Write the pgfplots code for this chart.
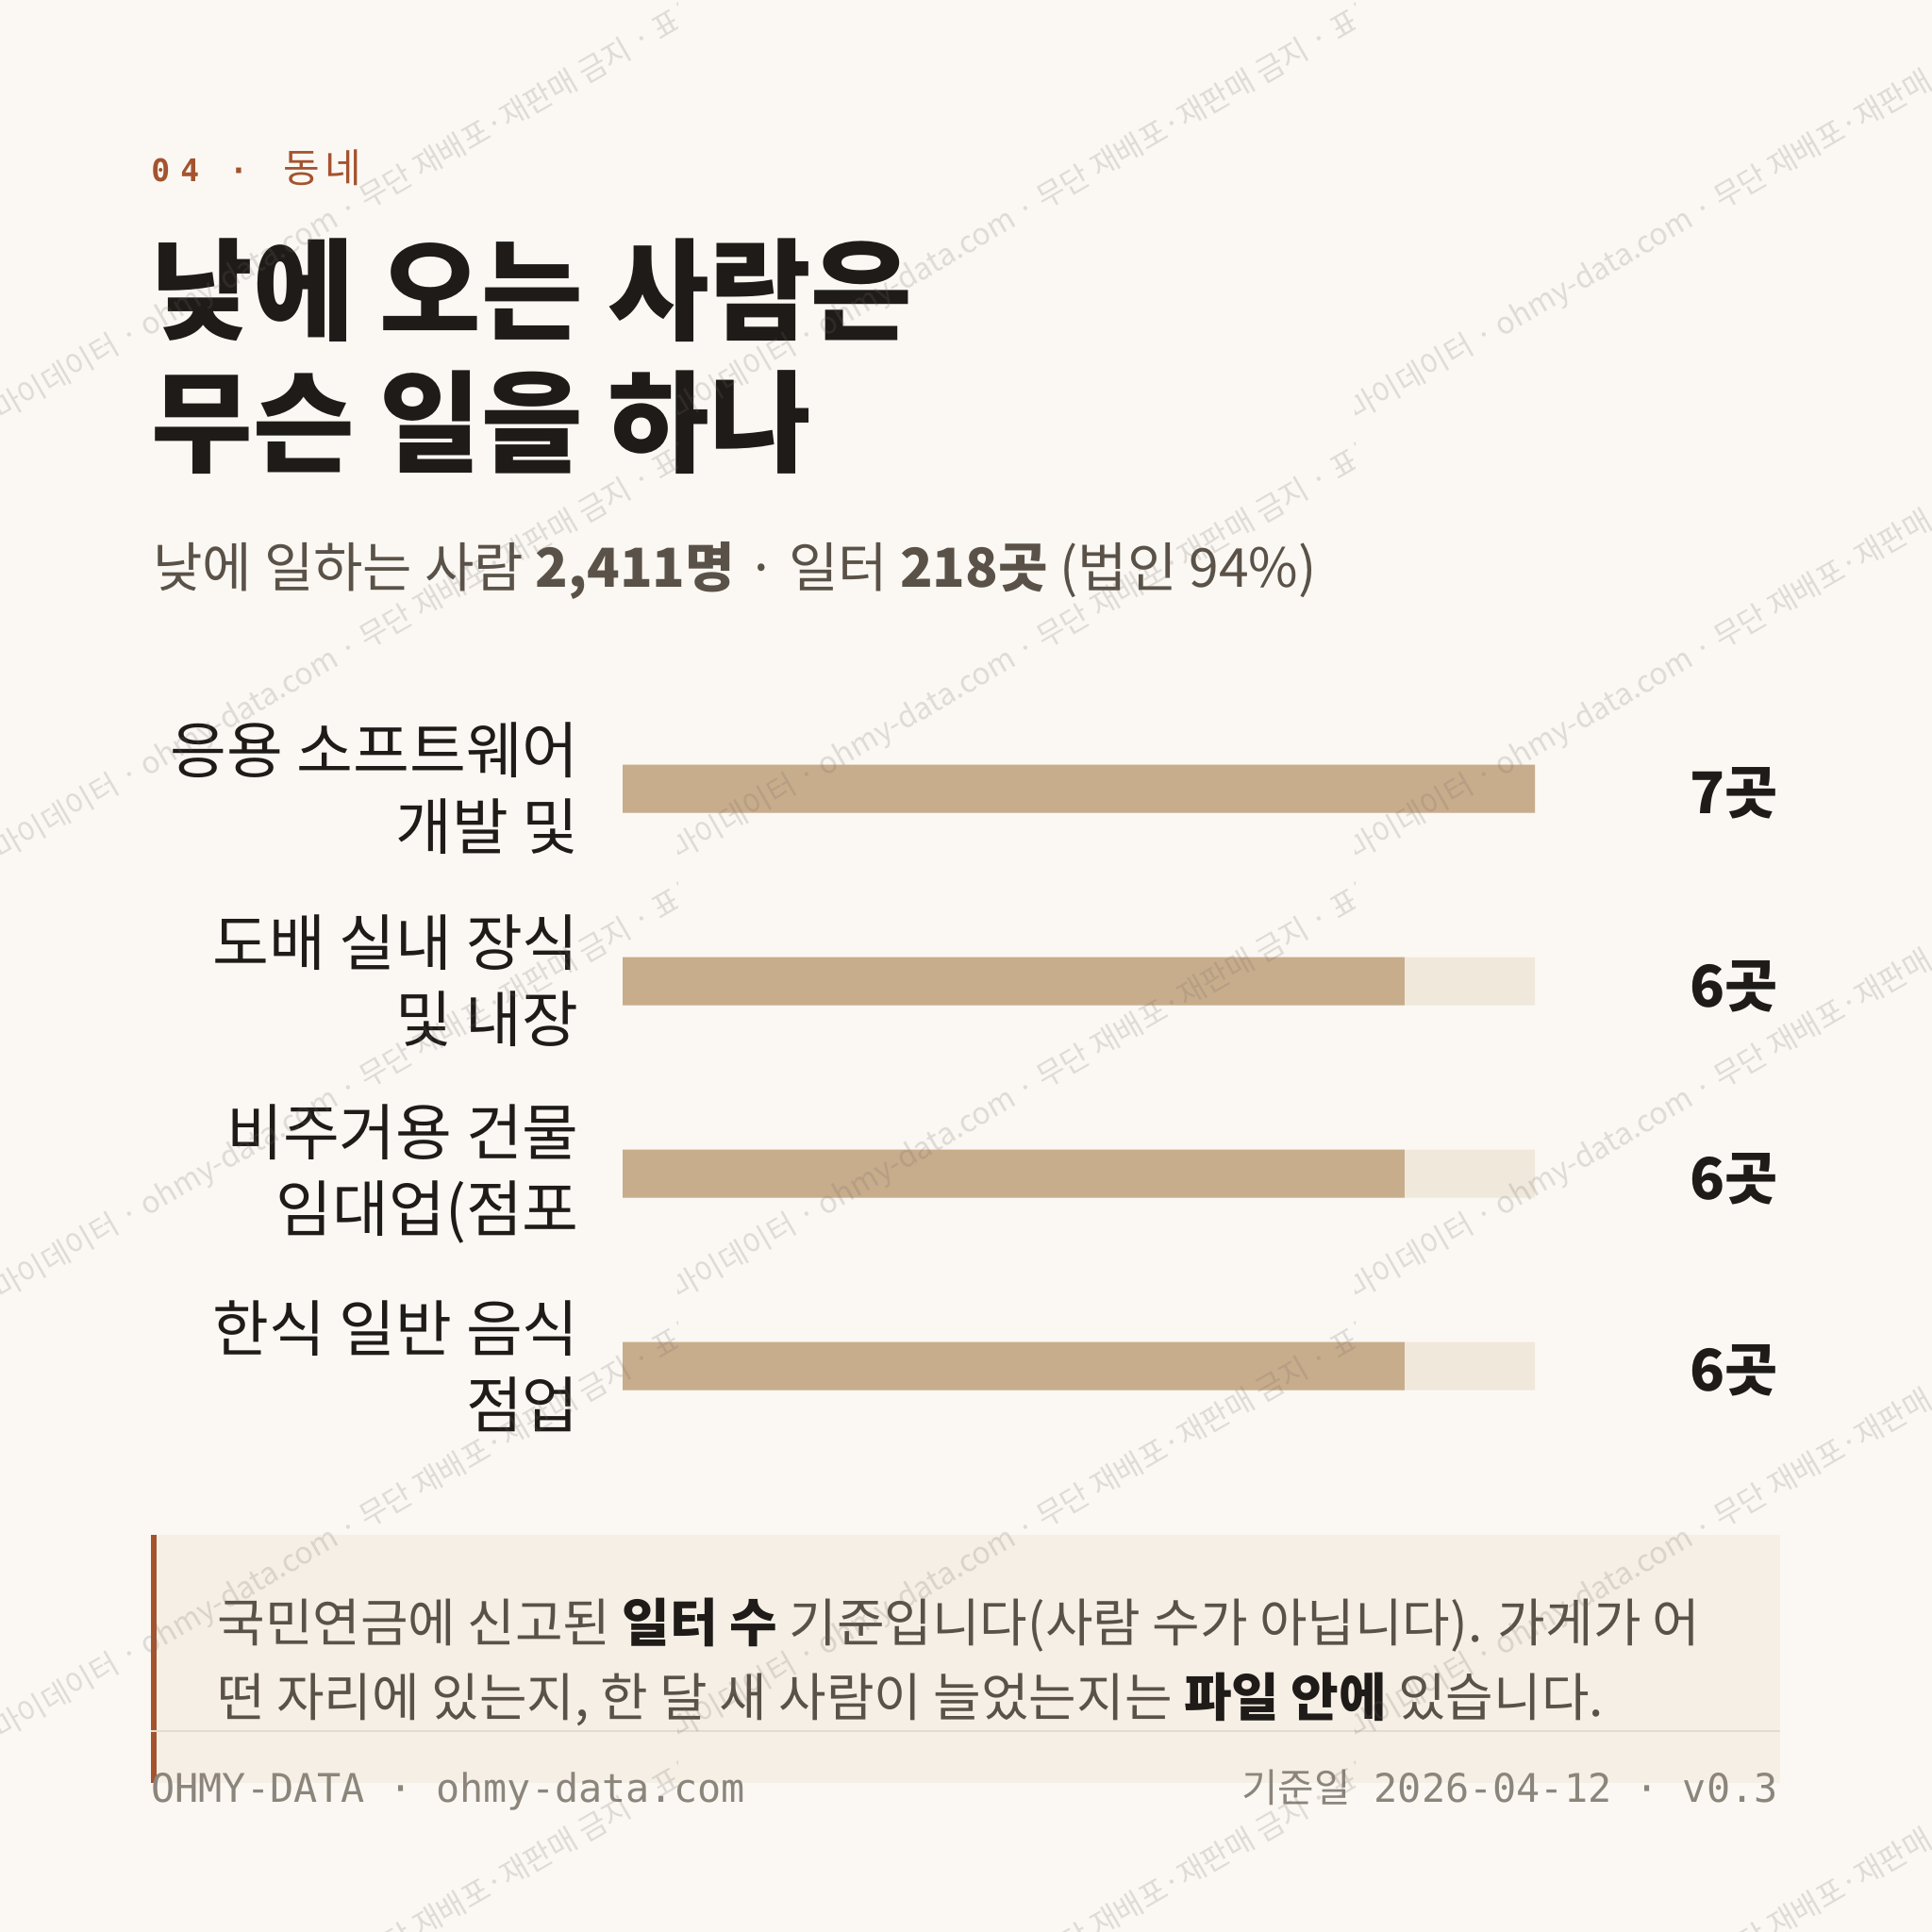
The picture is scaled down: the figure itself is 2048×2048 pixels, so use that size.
\documentclass[border=0pt]{standalone}
\usepackage{fontspec}
\usepackage{pgfplots}
\pgfplotsset{compat=1.18}
\setmainfont{Noto Sans CJK KR}
\newfontfamily\mono{DejaVu Sans Mono}
\definecolor{bg}{HTML}{FBF8F3}
\definecolor{rust}{HTML}{A4532F}
\definecolor{ink}{HTML}{1F1B18}
\definecolor{sub}{HTML}{5A5248}
\definecolor{barc}{HTML}{C8AD8C}
\definecolor{track}{HTML}{F1E8DC}
\definecolor{notebg}{HTML}{F6EFE5}
\definecolor{rule}{HTML}{E3DBCF}
\definecolor{foot}{HTML}{8C857B}
\definecolor{wm}{HTML}{6F6A64}
\begin{document}
\begin{tikzpicture}[x=0.5pt,y=-0.5pt]
\path[use as bounding box] (0,0) rectangle (2048,2048);
\fill[bg] (0,0) rectangle (2048,2048);
% kicker
\node[anchor=base west, inner sep=0pt, text=rust, font=\mono\bfseries\fontsize{16.5}{20}\selectfont] at (160,193) {0\kern5.5pt 4};
\node[anchor=base, inner sep=0pt, text=rust, font=\mono\bfseries\fontsize{16.5}{20}\selectfont] at (253,193) {·};
\node[anchor=base west, inner sep=0pt, text=rust, font=\fontsize{21}{24}\selectfont] at (300,194) {동\kern2.5pt 네};
% title
\node[anchor=base west, inner sep=0pt, text=ink, font=\bfseries\fontsize{58.5}{60}\selectfont] at (160,352) {낮에 오는 사람은};
\node[anchor=base west, inner sep=0pt, text=ink, font=\bfseries\fontsize{58.5}{60}\selectfont] at (160,491) {무슨 일을 하나};
% subtitle
\node[anchor=base west, inner sep=0pt, text=sub, font=\fontsize{28.5}{30}\selectfont] at (162,622) {낮에 일하는 사람 \textbf{2,411명} · 일터 \textbf{218곳} (법인 94\%)};
% bars
\begin{axis}[
  at={(571.75pt,-571pt)}, anchor=center,
  scale only axis, width=483.5pt, height=408pt,
  xbar, bar width=25.5pt, bar shift=0pt,
  xmin=0, xmax=7, ymin=-0.5, ymax=3.5, y dir=reverse,
  axis line style={draw=none}, major tick length=0pt,
  xtick=\empty, ytick={0,1,2,3},
  yticklabels={{응용 소프트웨어\\개발 및},{도배 실내 장식\\및 내장},{비주거용 건물\\임대업(점포},{한식 일반 음식\\점업}},
  yticklabel style={align=right, anchor=east, inner sep=0pt, xshift=-23pt, text=ink, font=\fontsize{32.5}{40.5}\selectfont},
  clip=false,
]
\addplot[fill=track, draw=none] coordinates {(7,0) (7,1) (7,2) (7,3)};
\addplot[fill=barc, draw=none] coordinates {(7,0) (6,1) (6,2) (6,3)};
\end{axis}
% value labels
\foreach \v/\yy in {7/836,6/1041,6/1245,6/1448}{
  \node[anchor=base east, inner sep=0pt, text=ink, font=\bfseries\fontsize{30.5}{30}\selectfont] at (1885,\yy+26) {\v{}곳};
}
% note box
\fill[notebg] (160,1627) rectangle (1887,1890);
\fill[rust] (160,1627) rectangle (166,1890);
\node[anchor=base west, inner sep=0pt, text=sub, font=\fontsize{27.5}{39}\selectfont] at (230,1740) {국민연금에 신고된 \textcolor{ink}{\textbf{일터 수}} 기준입니다(사람 수가 아닙니다). 가게가 어};
\node[anchor=base west, inner sep=0pt, text=sub, font=\fontsize{27.5}{39}\selectfont] at (230,1819) {떤 자리에 있는지, 한 달 새 사람이 늘었는지는 \textcolor{ink}{\textbf{파일 안에}} 있습니다.};
\draw[rule, line width=1pt] (160,1835) -- (1887,1835);
% footer
\node[anchor=base west, inner sep=0pt, text=foot, font=\mono\fontsize{20.9}{24}\selectfont] at (160,1910) {OHMY-DATA · ohmy-data.com};
\node[anchor=base east, inner sep=0pt, text=foot, font=\mono\fontsize{20.9}{24}\selectfont] at (1885,1910) {{\rmfamily 기준일} 2026-04-12 · v0.3};
% watermark
\foreach \i in {0,1,2}{
  \foreach \j in {0,1,2,3,4}{
    \begin{scope}
      \clip (\i*718, \j*466+447-470) rectangle (\i*718+718, \j*466+447+14);
      \node[anchor=base west, inner sep=0pt, rotate=30, text=wm, opacity=0.2, font=\fontsize{16}{18}\selectfont] at (\i*718+1, \j*466+447) {마이데이터 · ohmy-data.com · 무단 재배포·재판매 금지 · 표본};
    \end{scope}
  }
}
\end{tikzpicture}
\end{document}
